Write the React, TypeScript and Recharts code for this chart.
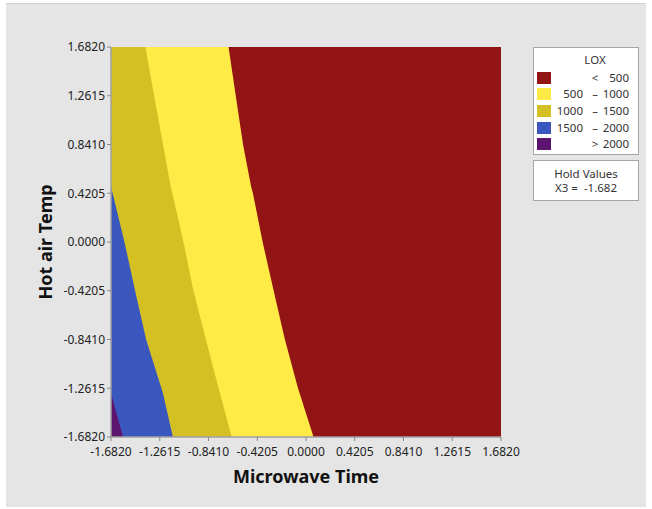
import React from 'react';
import { ComposedChart, Area, XAxis, YAxis, CartesianGrid, Label } from 'recharts';

// Hot air temp (coded) levels at which each contour line is sampled
const hotAirTemp = [1.682, 1.2615, 0.841, 0.48, 0.4205, 0, -0.4205, -0.841, -1.2615, -1.305, -1.682];
// Microwave time position of each LOX contour line at those levels
const lox500 = [-0.668, -0.606, -0.543, -0.474, -0.458, -0.374, -0.279, -0.182, -0.069, -0.055, 0.065];
const lox1000 = [-1.385, -1.31, -1.233, -1.168, -1.153, -1.057, -0.971, -0.864, -0.754, -0.742, -0.641];
const lox1500 = [-1.682, -1.682, -1.682, -1.682, -1.668, -1.566, -1.474, -1.379, -1.247, -1.234, -1.148];
const lox2000 = [-1.682, -1.682, -1.682, -1.682, -1.682, -1.682, -1.682, -1.682, -1.682, -1.682, -1.578];

const axisTicks = [-1.682, -1.2615, -0.841, -0.4205, 0, 0.4205, 0.841, 1.2615, 1.682];
const axisMin = -1.682;
const axisMax = 1.682;

// Legend bands
const bandLow = ['', '500', '1000', '1500', ''];
const bandSign = ['<', '\u2013', '\u2013', '\u2013', '>'];
const bandHigh = ['500', '1000', '1500', '2000', '2000'];
const bandColors = ['#921414', '#FFEB46', '#D4C023', '#3A57C0', '#5C146E'];

const holdLabel = 'Hold Values';
const holdVar = 'X3';
const holdValue = '-1.682';

const rows = hotAirTemp.map((y, i) => ({
  y,
  c500: lox500[i],
  c1000: lox1000[i],
  c1500: lox1500[i],
  c2000: lox2000[i],
}));

const FONT = '"Noto Sans", "Open Sans", sans-serif';
const AXIS_GRAY = '#a0a0a0';
const fmt = (v: number) => v.toFixed(4);

const tickStyle = { fontSize: 12, fill: '#222', fontFamily: FONT };
const titleStyle = { fontSize: 18, fontWeight: 700, fill: '#111', fontFamily: FONT };

export default function App() {
  return (
    <div style={{ position: 'relative', width: 652, height: 509, background: '#fff', fontFamily: FONT }}>
      <style>{'body{margin:0}'}</style>
      <div
        style={{
          position: 'absolute',
          left: 6,
          top: 3,
          width: 640,
          height: 504,
          background: '#e5e5e5',
          borderTop: '1px solid #d2d2d2',
          boxSizing: 'border-box',
        }}
      />
      <div style={{ position: 'absolute', left: 0, top: 0 }}>
        <ComposedChart
          width={652}
          height={509}
          layout="vertical"
          data={rows}
          margin={{ top: 47, right: 151, bottom: 42, left: 51 }}
        >
          <CartesianGrid fill={bandColors[0]} horizontal={false} vertical={false} stroke="none" />
          <XAxis
            type="number"
            domain={[axisMin, axisMax]}
            ticks={axisTicks}
            tickFormatter={fmt}
            allowDataOverflow
            height={30}
            tickSize={4}
            tickMargin={6}
            interval={0}
            tick={tickStyle}
            axisLine={{ stroke: AXIS_GRAY, strokeWidth: 1.5 }}
            tickLine={{ stroke: '#888' }}
          >
            <Label value="Microwave Time" position="bottom" offset={3} style={titleStyle} />
          </XAxis>
          <XAxis
            xAxisId="top"
            orientation="top"
            type="number"
            domain={[axisMin, axisMax]}
            height={0}
            tick={false}
            tickLine={false}
            axisLine={{ stroke: AXIS_GRAY, strokeWidth: 1.5 }}
          />
          <YAxis
            type="number"
            dataKey="y"
            reversed
            domain={[axisMin, axisMax]}
            ticks={axisTicks}
            tickFormatter={fmt}
            allowDataOverflow
            width={60}
            tickSize={4}
            tickMargin={2}
            interval={0}
            tick={tickStyle}
            axisLine={{ stroke: AXIS_GRAY, strokeWidth: 1.5 }}
            tickLine={{ stroke: '#888' }}
          >
            <Label
              value="Hot air Temp"
              position="left"
              offset={5}
              angle={-90}
              textAnchor="middle"
              style={{ ...titleStyle, textAnchor: 'middle' }}
            />
          </YAxis>
          <YAxis
            yAxisId="right"
            orientation="right"
            type="number"
            reversed
            domain={[axisMin, axisMax]}
            width={0}
            tick={false}
            tickLine={false}
            axisLine={{ stroke: AXIS_GRAY, strokeWidth: 1.5 }}
          />
          <Area
            type="linear"
            dataKey="c500"
            baseValue={axisMin}
            fill={bandColors[1]}
            fillOpacity={1}
            stroke="none"
            isAnimationActive={false}
          />
          <Area
            type="linear"
            dataKey="c1000"
            baseValue={axisMin}
            fill={bandColors[2]}
            fillOpacity={1}
            stroke="none"
            isAnimationActive={false}
          />
          <Area
            type="linear"
            dataKey="c1500"
            baseValue={axisMin}
            fill={bandColors[3]}
            fillOpacity={1}
            stroke="none"
            isAnimationActive={false}
          />
          <Area
            type="linear"
            dataKey="c2000"
            baseValue={axisMin}
            fill={bandColors[4]}
            fillOpacity={1}
            stroke="none"
            isAnimationActive={false}
          />
        </ComposedChart>
      </div>

      {/* LOX legend */}
      <div
        style={{
          position: 'absolute',
          left: 533,
          top: 47,
          width: 106,
          height: 108,
          boxSizing: 'border-box',
          background: '#fff',
          border: '1px solid #a5a5a5',
          fontSize: 11.5,
          color: '#333',
        }}
      >
        <div style={{ position: 'absolute', left: 18, right: 0, top: 5, textAlign: 'center', lineHeight: '14px' }}>
          LOX
        </div>
        {bandColors.map((c, i) => (
          <div key={i} style={{ position: 'absolute', left: 0, top: 21.5 + i * 16.67, height: 16, width: 104 }}>
            <div style={{ position: 'absolute', left: 3, top: 2, width: 14, height: 12, background: c }} />
            <div style={{ position: 'absolute', left: 17, width: 32, textAlign: 'right', lineHeight: '16px' }}>
              {bandLow[i]}
            </div>
            <div style={{ position: 'absolute', left: 53, width: 16, textAlign: 'center', lineHeight: '16px' }}>
              {bandSign[i]}
            </div>
            <div style={{ position: 'absolute', left: 68, width: 27, textAlign: 'right', lineHeight: '16px' }}>
              {bandHigh[i]}
            </div>
          </div>
        ))}
      </div>

      {/* Hold values box */}
      <div
        style={{
          position: 'absolute',
          left: 533,
          top: 160,
          width: 106,
          height: 41,
          boxSizing: 'border-box',
          background: '#fff',
          border: '1px solid #a5a5a5',
          fontSize: 11.5,
          color: '#333',
          textAlign: 'center',
          whiteSpace: 'pre',
        }}
      >
        <div style={{ position: 'absolute', left: 0, right: 0, top: 6, lineHeight: '13px' }}>{holdLabel}</div>
        <div style={{ position: 'absolute', left: 0, right: 0, top: 20, lineHeight: '13px' }}>
          {`${holdVar} =  ${holdValue}`}
        </div>
      </div>
    </div>
  );
}
